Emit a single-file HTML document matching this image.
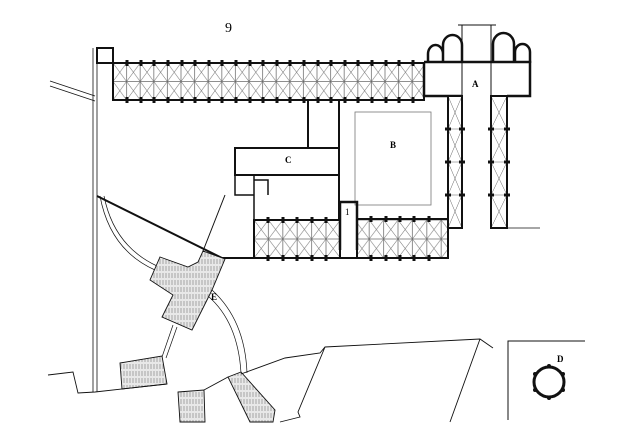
<!DOCTYPE html>
<html><head><style>body{margin:0;background:#fff}svg{display:block}</style></head><body>
<svg width="633" height="437" viewBox="0 0 633 437" xmlns="http://www.w3.org/2000/svg" font-family="Liberation Serif, serif">
<defs>
<pattern id="x" x="113" y="63" width="13.6" height="18.5" patternUnits="userSpaceOnUse">
<rect width="13.6" height="18.5" fill="#fff" stroke="#444" stroke-width="0.6"/>
<path d="M0 0L13.6 18.5M13.6 0L0 18.5" stroke="#666" stroke-width="0.5"/></pattern>
<pattern id="x2" x="254" y="220" width="14.4" height="19" patternUnits="userSpaceOnUse">
<rect width="14.4" height="19" fill="#fff" stroke="#444" stroke-width="0.6"/>
<path d="M0 0L14.4 19M14.4 0L0 19" stroke="#666" stroke-width="0.5"/></pattern>
<pattern id="xa" x="448" y="96" width="14" height="33" patternUnits="userSpaceOnUse">
<rect width="14" height="33" fill="#fff" stroke="#666" stroke-width="0.5"/>
<path d="M0 0L14 33M14 0L0 33" stroke="#666" stroke-width="0.5"/></pattern>
<pattern id="xb" x="491" y="96" width="16" height="33" patternUnits="userSpaceOnUse">
<rect width="16" height="33" fill="#fff" stroke="#666" stroke-width="0.5"/>
<path d="M0 0L16 33M16 0L0 33" stroke="#666" stroke-width="0.5"/></pattern>
<pattern id="h" width="3" height="7" patternUnits="userSpaceOnUse">
<rect width="3" height="7" fill="#e8e8e8"/><path d="M1 0V5" stroke="#888" stroke-width="0.7"/></pattern>
</defs>
<text x="225" y="32" font-size="14">9</text>
<g fill="none" stroke="#111" stroke-width="1">
<path d="M93 48V392M97 48V392" stroke-width="0.8"/>
<path d="M50 81L95 96M50 86L95 101" stroke-width="0.8"/>
<rect x="97" y="48" width="16" height="15" stroke-width="2"/>
<rect x="113" y="63" width="311" height="37" fill="url(#x)" stroke-width="2"/>
<path d="M424 62H530V96H507M462 96H424V62" stroke-width="2.5" fill="#fff"/>
<rect x="448" y="96" width="14" height="132" fill="url(#xa)" stroke-width="2"/>
<rect x="491" y="96" width="16" height="132" fill="url(#xb)" stroke-width="2"/>
<path d="M462 25V228M491 25V228" stroke-width="1"/>
<path d="M458 25H496" stroke-width="1"/>
<path d="M428 63V54A7.5 9 0 0 1 443 54V63M443 63V45A9.5 10 0 0 1 462 45V63M493 63V44A10.5 11 0 0 1 514 44V63M515 63V52A7.5 8 0 0 1 530 52V63" stroke-width="2.5"/>
<path d="M507 228H540" stroke-width="0.8"/>
<path d="M339 99V230M308 99V148" stroke-width="2"/>
<rect x="355" y="112" width="76" height="93" stroke-width="0.8" stroke="#777"/>
<rect x="235" y="148" width="104" height="27" stroke-width="2" fill="#fff"/>
<path d="M235 175V195H254M254 175V258M254 180H268V195" stroke-width="1.5"/>
<rect x="254" y="220" width="86" height="38" fill="url(#x2)" stroke-width="2"/>
<rect x="357" y="219" width="91" height="39" fill="url(#x2)" stroke-width="2"/>
<path d="M340 250V202H357V250" stroke-width="2.5"/>
<path d="M340 258H357" stroke-width="2"/>
<path d="M97 196L222 258H254" stroke-width="2"/>
<path d="M225 195L203 251" stroke-width="1"/>
<path d="M100 196Q110 250 155 270M104 196Q114 246 157 266" stroke-width="0.7"/>
<path d="M212 290Q245 320 247 373M208 296Q238 322 241 373" stroke-width="0.7"/>
<path d="M173 325L162 357M177 327L166 358" stroke-width="0.7"/>
<path d="M160 257L188 267L198 262L203 251L225 259L212 290L192 330L162 317L173 295L150 280Z" fill="url(#h)" stroke-width="0.9"/>
<path d="M120 363L162 356L167 384L122 389Z" fill="url(#h)" stroke-width="0.9"/>
<path d="M178 392L204 390L205 422L180 422Z" fill="url(#h)" stroke-width="0.9"/>
<path d="M228 377L241 372L275 410L273 422L250 422Z" fill="url(#h)" stroke-width="0.9"/>
<path d="M48 375L73 372L78 393L95 392L167 384" stroke-width="0.9"/>
<path d="M204 390L228 377M241 374L285 358L320 353L325 347L480 339L493 348M325 347L298 412L300 417L280 422M480 339L450 422" stroke-width="0.9"/>
<path d="M508 420V341H585" stroke-width="1"/>
<circle cx="549" cy="382" r="15" stroke-width="3"/>
</g>
<g stroke="#111" stroke-width="3">
<path d="M127 60v6M141 60v6M154 60v6M168 60v6M182 60v6M195 60v6M209 60v6M222 60v6M236 60v6M250 60v6M263 60v6M277 60v6M290 60v6M304 60v6M318 60v6M331 60v6M345 60v6M358 60v6M372 60v6M386 60v6M399 60v6M413 60v6"/>
<path d="M127 97v6M141 97v6M154 97v6M168 97v6M182 97v6M195 97v6M209 97v6M222 97v6M236 97v6M250 97v6M263 97v6M277 97v6M290 97v6M304 97v6M318 97v6M331 97v6M345 97v6M358 97v6M372 97v6M386 97v6M399 97v6M413 97v6"/>
<path d="M268 217v6M283 217v6M297 217v6M312 217v6M326 217v6M371 216v6M386 216v6M400 216v6M414 216v6M429 216v6"/>
<path d="M268 255v6M283 255v6M297 255v6M312 255v6M326 255v6M371 255v6M386 255v6M400 255v6M414 255v6M429 255v6"/>
<path d="M445 129h6M445 162h6M445 195h6M504 129h6M504 162h6M504 195h6M459 129h6M459 162h6M459 195h6M488 129h6M488 162h6M488 195h6"/>
</g>
<g fill="#111">
<circle cx="549" cy="366" r="2"/><circle cx="549" cy="398" r="2"/><circle cx="535" cy="374" r="2"/><circle cx="563" cy="374" r="2"/><circle cx="535" cy="390" r="2"/><circle cx="563" cy="390" r="2"/>
</g>
<g font-size="9" font-weight="bold">
<text x="472" y="87">A</text><text x="390" y="148">B</text><text x="285" y="163">C</text><text x="557" y="362">D</text><text x="211" y="300">E</text>
</g>
<text x="345" y="215" font-size="9">1</text>
</svg>
</body></html>
